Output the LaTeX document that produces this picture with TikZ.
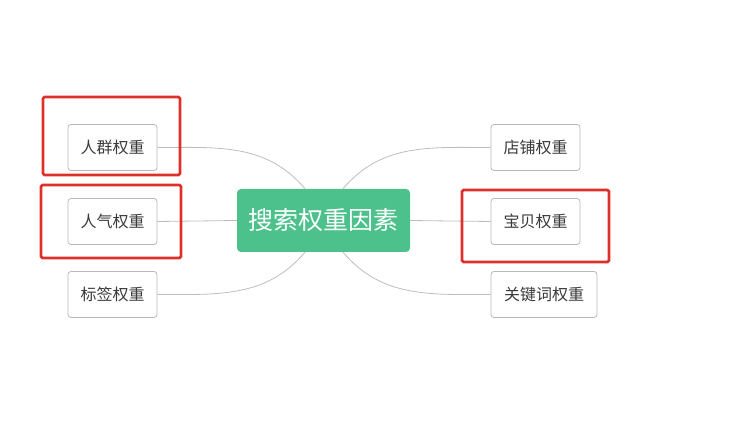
\documentclass[tikz,border=0pt]{standalone}
\usepackage{fontspec}
\usetikzlibrary{calc}
\setmainfont{Noto Sans CJK SC}
\definecolor{mintgreen}{HTML}{4DC18C}
\definecolor{boxgray}{HTML}{B8B8B8}
\definecolor{linkgray}{HTML}{BDBDBD}
\definecolor{textgray}{HTML}{3A3A3A}
\definecolor{markred}{HTML}{DC3028}
\newcommand{\h}{46pt}

\begin{document}
\begin{tikzpicture}[x=1pt, y=1pt,
    topic/.style={draw=boxgray, line width=0.8pt, rounded corners=3pt, minimum height=\h, minimum width=89pt, inner sep=0pt, text=textgray, font=\fontsize{16}{16}\selectfont},
    root/.style={fill=mintgreen, rounded corners=4pt, minimum width=173pt, minimum height=63pt, inner sep=0pt, text=white, font=\fontsize{25}{25}\selectfont},
    link/.style={draw=linkgray, line width=0.8pt},
    redmark/.style={draw=markred, line width=2.6pt, rounded corners=1.5pt}]
    \useasboundingbox (0,0) rectangle (730,430);

    % Center
    \node[root] (root) at (323.5,209.5) {搜索权重因素};

    % Left side
    \node[topic] (crowd) at (112.5,282.5) {人群权重};
    \node[topic] (pop) at (112.5,208.5) {人气权重};
    \node[topic] (tag) at (112.5,135.5) {标签权重};

    % Right side
    \node[topic] (shop) at (535.5,282.5) {店铺权重};
    \node[topic] (item) at (535.5,208.5) {宝贝权重};
    \node[topic, minimum width=106pt] (kw) at (544,135.5) {关键词权重};

    % Links
    \coordinate (rootnw) at ($(root.north)+(-18.5,0)$);
    \coordinate (rootne) at ($(root.north)+(19.5,0)$);
    \coordinate (rootsw) at ($(root.south)+(-18.5,0)$);
    \coordinate (rootse) at ($(root.south)+(19.5,0)$);
    \draw[link] (crowd.east) to[out=0, in=130] (rootnw);
    \draw[link] (pop.east) -- (root.west);
    \draw[link] (tag.east) to[out=0, in=-130] (rootsw);
    \draw[link] (shop.west) to[out=180, in=50] (rootne);
    \draw[link] (item.west) -- (root.east);
    \draw[link] (kw.west) to[out=180, in=-50] (rootse);

    % Red marks
    \draw[redmark] (43,255) rectangle (180,333);
    \draw[redmark] (41,172) rectangle (181,245);
    \draw[redmark] (462,168) rectangle (609,240);

\end{tikzpicture}
\end{document}
